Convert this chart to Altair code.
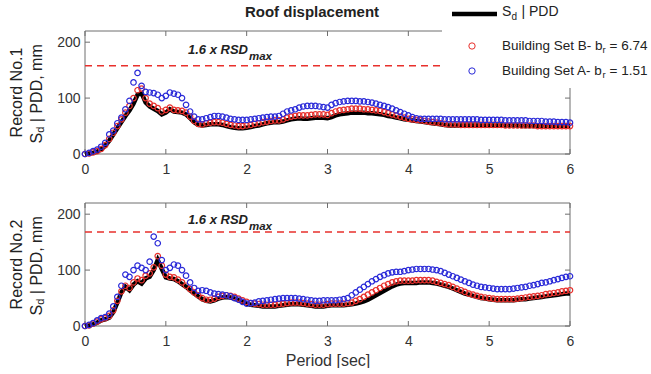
import altair as alt
import numpy as np
import pandas as pd

# ---------------- data ----------------
PERIOD = np.round(np.arange(0, 121) * 0.05, 2)   # 0.00 .. 6.00 s

# Record No.1
PDD1 = [0,1,2,4,8,15,24,35,46,57,68,78,90,106,109,92,85,81,77,71,
        74,80,76,75,74,71,64,57,52,51,52,53,53,53,52,50,48,47,46,46,
        47,48,50,51,53,55,56,57,57,58,60,62,63,64,63,63,64,65,65,65,
        64,66,69,71,72,73,74,74,74,74,73,73,72,71,70,68,67,65,64,62,
        61,60,59,58,57,56,55,54,53,52,51,51,51,51,51,51,51,51,51,51,
        51,51,51,51,51,51,51,51,50,50,50,50,50,50,50,50,50,50,50,50,
        50]
SETB1 = [0,1,3,5,9,16,27,38,50,62,74,86,100,114,117,100,90,86,82,76,
         79,83,79,78,77,74,67,59,54,53,55,56,57,57,56,54,52,51,50,50,
         51,52,54,55,57,58,59,60,60,62,65,67,68,69,69,69,70,71,71,71,
         70,73,76,78,79,80,81,81,81,80,80,79,78,77,75,73,71,69,67,65,
         63,62,61,60,59,58,57,56,55,54,53,53,53,52,52,52,52,52,52,52,
         52,52,52,52,51,51,51,51,51,51,51,51,50,50,50,50,50,50,50,50,
         50]
SETA1 = [0,2,5,8,13,20,35,42,55,65,80,95,128,145,122,111,110,109,106,100,
         104,110,108,106,100,88,76,67,62,62,64,66,68,68,67,65,63,62,61,61,
         61,62,63,64,65,66,67,67,68,72,76,78,80,83,85,86,86,86,85,84,
         83,88,91,93,94,95,95,95,94,94,93,92,90,88,86,84,81,78,75,72,
         69,66,64,63,63,63,63,63,63,62,62,62,62,62,62,62,62,62,61,61,
         61,61,61,61,60,60,60,60,60,60,59,59,59,59,58,58,58,57,57,57,
         56]

# Record No.2
PDD2 = [0,1,3,6,10,12,15,25,42,60,70,64,74,80,76,85,88,100,118,102,
        87,85,84,80,75,70,64,58,53,48,45,44,46,49,51,52,51,49,46,43,
        40,38,37,36,35,35,35,35,36,37,38,39,39,39,38,37,36,35,35,35,
        36,37,37,37,37,38,39,40,42,44,47,51,55,59,63,67,71,74,76,77,
        77,77,77,78,78,78,77,76,74,72,70,67,64,61,58,56,54,52,50,49,
        48,47,46,46,46,46,46,47,48,48,49,50,51,52,53,54,55,56,57,58,
        58]
SETB2 = [0,1,4,8,12,14,18,28,45,62,72,68,78,85,82,90,94,105,125,108,
         92,88,87,83,78,72,66,60,55,50,47,47,49,52,54,55,54,52,49,46,
         43,41,40,39,38,38,38,38,39,40,41,42,42,42,41,40,39,38,38,38,
         39,40,40,40,40,41,42,45,48,52,56,60,64,68,72,75,78,80,81,81,
         81,81,82,82,82,82,81,79,77,75,73,70,67,64,61,58,56,54,52,51,
         50,49,48,48,48,48,48,49,50,51,52,53,54,55,57,58,59,60,62,63,
         64]
SETA2 = [0,2,5,10,14,16,22,35,52,72,92,88,100,108,104,100,115,160,148,118,
         100,104,110,108,100,90,78,68,63,64,63,60,58,57,56,55,53,50,47,43,
         40,41,42,44,45,46,47,48,49,50,50,50,50,49,48,47,46,45,45,46,
         46,46,46,47,48,50,55,60,65,70,75,80,84,88,91,94,96,97,97,98,
         100,101,102,102,102,102,101,100,98,95,92,89,86,83,80,77,74,72,70,69,
         68,67,66,66,66,66,67,68,69,70,72,73,75,77,78,80,82,84,86,88,
         89]

X_TICKS = [0, 1, 2, 3, 4, 5, 6]
Y_TICKS = [0, 100, 200]
RSD_LIMIT = [158, 168]
RECORD_LABELS = ["Record No.1", "Record No.2"]
TITLE = "Roof displacement"
LEG_PDD = ["S", "d", "| PDD"]
LEG_B = ["Building Set B- b", "r", "= 6.74"]
LEG_A = ["Building Set A- b", "r", "= 1.51"]
RSD_TXT = ["1.6 x RSD", "max"]
YLAB2 = ["S", "d", "| PDD, mm"]
XTITLE = "Period [sec]"

# ---------------- style ----------------
FONT = "Liberation Sans"
W, H = 485, 123
RED = "#e8302c"
BLUE = "#2a2ad8"
FRAME = "#6e6e6e"
LAB = "#333333"

ONE = pd.DataFrame({"k": [0]})


def txt(text, x, y, size, **kw):
    return alt.Chart(ONE).mark_text(text=text, font=FONT, fontSize=size, color=kw.pop("color", "#222222"),
                                    align=kw.pop("align", "left"), baseline="middle", **kw).encode(
        x=alt.value(x), y=alt.value(y))


def panel(idx, pdd, setb, seta, xtitle):
    df = pd.DataFrame({"t": PERIOD, "pdd": pdd, "b": setb, "a": seta})
    xs = alt.Scale(domain=[0, 6], nice=False, zero=False)
    ys = alt.Scale(domain=[0, 220], nice=False)
    xa = alt.Axis(values=X_TICKS, ticks=False, domain=False, grid=False, labelFont=FONT, labelFontSize=14,
                  labelColor=LAB, labelPadding=8, labelFlush=False, title=xtitle, titleFont=FONT,
                  titleFontSize=16, titleFontWeight="normal", titleColor=LAB, titlePadding=4)
    ya = alt.Axis(values=Y_TICKS, ticks=False, domain=False, grid=False, labelFont=FONT, labelFontSize=14,
                  labelColor=LAB, labelPadding=5, title="")

    def X(f):
        return alt.X(f, type="quantitative", scale=xs, axis=xa)

    def Y(f):
        return alt.Y(f, type="quantitative", scale=ys, axis=ya)

    layers = []
    # frame
    fr = dict(color=FRAME, strokeWidth=1)
    layers.append(alt.Chart(ONE).mark_rule(**fr).encode(x=alt.value(0), y=alt.value(0), y2=alt.value(H)))
    layers.append(alt.Chart(ONE).mark_rule(**fr).encode(x=alt.value(W), y=alt.value(0), y2=alt.value(H)))
    layers.append(alt.Chart(ONE).mark_rule(**fr).encode(y=alt.value(0), x=alt.value(0), x2=alt.value(W)))
    layers.append(alt.Chart(ONE).mark_rule(**fr).encode(y=alt.value(H), x=alt.value(0), x2=alt.value(W)))
    # inward ticks
    xt = pd.DataFrame({"v": X_TICKS})
    yt = pd.DataFrame({"v": Y_TICKS})
    layers.append(alt.Chart(xt).mark_rule(**fr).encode(x=X("v"), y=alt.value(H - 5), y2=alt.value(H)))
    layers.append(alt.Chart(xt).mark_rule(**fr).encode(x=X("v"), y=alt.value(0), y2=alt.value(5)))
    layers.append(alt.Chart(yt).mark_rule(**fr).encode(y=Y("v"), x=alt.value(0), x2=alt.value(5)))
    layers.append(alt.Chart(yt).mark_rule(**fr).encode(y=Y("v"), x=alt.value(W - 5), x2=alt.value(W)))
    # limit line
    lim = pd.DataFrame({"v": [RSD_LIMIT[idx]]})
    layers.append(alt.Chart(lim).mark_rule(color=RED, strokeWidth=1.5, strokeDash=[7, 5]).encode(
        y=Y("v"), x=alt.value(0), x2=alt.value(W)))
    # series
    base = alt.Chart(df)
    layers.append(base.mark_line(color="black", strokeWidth=4.5).encode(x=X("t"), y=Y("pdd")))
    layers.append(base.mark_point(shape="circle", filled=False, size=30, strokeWidth=1.2, color=RED,
                                  opacity=1).encode(x=X("t"), y=Y("b")))
    layers.append(base.mark_point(shape="circle", filled=False, size=30, strokeWidth=1.2, color=BLUE,
                                  opacity=1).encode(x=X("t"), y=Y("a")))
    # 1.6 x RSDmax label
    ry = 19 if idx == 0 else 17
    layers.append(txt(RSD_TXT[0], 103, ry, 13, fontWeight="bold", fontStyle="italic"))
    layers.append(txt(RSD_TXT[1], 164, ry + 7, 11.5, fontWeight="bold", fontStyle="italic"))
    # y label (two lines, rotated)
    yc = H / 2
    layers.append(txt(RECORD_LABELS[idx], -68, yc, 16, angle=270, align="center"))
    y0 = yc + 51
    layers.append(txt(YLAB2[0], -48, y0, 16, angle=270))
    layers.append(txt(YLAB2[1], -44, y0 - 10.7, 11, angle=270))
    layers.append(txt(YLAB2[2], -48, y0 - 21.3, 16, angle=270))

    if idx == 0:
        # legend box
        layers.append(alt.Chart(ONE).mark_rect(color="white").encode(
            x=alt.value(357), x2=alt.value(566), y=alt.value(-31), y2=alt.value(57)))
        layers.append(alt.Chart(ONE).mark_rule(color="black", strokeWidth=4.5).encode(
            x=alt.value(367), x2=alt.value(412), y=alt.value(-17)))
        layers.append(txt(LEG_PDD[0], 417, -19, 14))
        layers.append(txt(LEG_PDD[1], 426.5, -14, 10))
        layers.append(txt(LEG_PDD[2], 436.5, -19, 14))
        for ly, col, leg in [(15.0, RED, LEG_B), (40.0, BLUE, LEG_A)]:
            layers.append(alt.Chart(ONE).mark_point(shape="circle", filled=False, size=40, strokeWidth=1,
                                                    color=col, opacity=1).encode(
                x=alt.value(387), y=alt.value(ly)))
            layers.append(txt(leg[0], 417, ly, 13.5))
            layers.append(txt(leg[1], 517.5, ly + 4, 9.5))
            layers.append(txt(leg[2], 524.5, ly, 13.5))
        layers.append(txt(TITLE, 227, -19, 15, fontWeight="bold", align="center"))
        # invisible anchor for left edge
        layers.append(alt.Chart(ONE).mark_rule(opacity=0).encode(
            x=alt.value(-85), y=alt.value(0), y2=alt.value(10)))
    return alt.layer(*layers).properties(width=W, height=H)


top = panel(0, PDD1, SETB1, SETA1, "")
bottom = panel(1, PDD2, SETB2, SETA2, XTITLE)

chart = alt.vconcat(top, bottom, spacing=49, bounds="flush").properties(
    padding=0, background="white"
).configure_view(strokeWidth=0)

chart.save("out.html", embed_options={"renderer": "svg", "actions": False})
